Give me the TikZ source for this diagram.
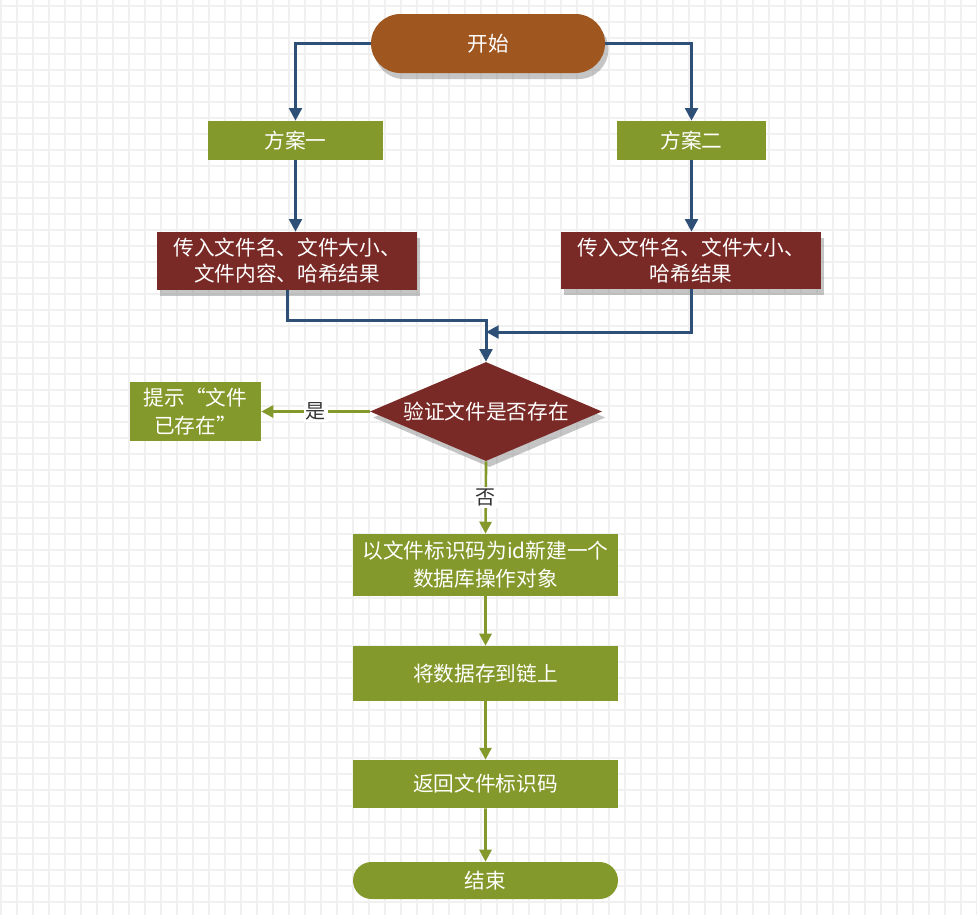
\documentclass[tikz,border=0pt]{standalone}
\usepackage{fontspec}
\setmainfont{Noto Sans CJK SC}
\usetikzlibrary{shapes.geometric,shapes.misc,arrows.meta,shadows}

\definecolor{startbrown}{HTML}{A0561F}
\definecolor{planolive}{HTML}{84992B}
\definecolor{inputred}{HTML}{7A2A26}
\definecolor{flowblue}{HTML}{2E5077}
\definecolor{gridgray}{HTML}{F0F0F0}

\tikzset{
  base/.style={text=white, inner sep=0pt, align=center,
    font=\fontsize{15.5pt}{21pt}\selectfont},
  shadowed/.style={drop shadow={shadow xshift=2.5pt, shadow yshift=-4.5pt, fill=black!45}},
  startnode/.style={base, rounded rectangle, fill=startbrown, shadowed},
  plan/.style={base, fill=planolive},
  inputbox/.style={base, fill=inputred, shadowed, minimum width=195pt,
    font=\fontsize{15.5pt}{19.5pt}\selectfont},
  decision/.style={base, diamond, aspect=2.34, fill=inputred, shadowed},
  blueflow/.style={draw=flowblue, line width=2.25pt, -{Triangle[length=9.5pt,width=9.5pt]}},
  greenflow/.style={draw=planolive, line width=2pt, -{Triangle[length=9pt,width=9pt]}},
  choice/.style={fill=white, text=black!80, inner sep=1.5pt, font=\fontsize{15pt}{18pt}\selectfont},
  gridline/.style={draw=gridgray, line width=1.5pt}
}

\begin{document}
\begin{tikzpicture}[x=0.75pt,y=-0.75pt]
  \useasboundingbox (0,0) rectangle (977,915);
  % background grid
  \fill[white] (0,0) rectangle (977,915);
  \foreach \gx in {1,17,...,977} \draw[gridline] (\gx,0) -- (\gx,915);
  \foreach \gy in {6,22,...,915} \draw[gridline] (0,\gy) -- (977,\gy);

  % start and the two plans
  \node[startnode, minimum width=175.5pt, minimum height=44.25pt] (start) at (488,43.5) {开始};
  \node[plan, minimum width=131.25pt, minimum height=29.25pt] (plan1) at (295.5,140.5) {方案一};
  \node[plan, minimum width=111.75pt, minimum height=29.25pt] (plan2) at (691.5,140.5) {方案二};

  % inputs
  \node[inputbox, minimum height=43.5pt] (input1) at (287,261) {传入文件名、文件大小、\\文件内容、哈希结果};
  \node[inputbox, minimum height=42.75pt] (input2) at (691,260.5) {传入文件名、文件大小、\\哈希结果};

  % check
  \node[decision, minimum width=174pt, minimum height=74.25pt] (verify) at (486,411.5) {验证文件是否存在};
  \node[plan, minimum width=98.25pt, minimum height=44.25pt] (notice) at (195.5,411.5) {提示“文件\\已存在”};

  % steps
  \node[plan, minimum width=198.75pt, minimum height=46.5pt] (create) at (485.5,565) {以文件标识码为id新建一个\\数据库操作对象};
  \node[plan, minimum width=198.75pt, minimum height=41.25pt] (store) at (485.5,673.5) {将数据存到链上};
  \node[plan, minimum width=198.75pt, minimum height=36pt] (back) at (485.5,784) {返回文件标识码};
  \node[plan, rounded rectangle, minimum width=198.75pt, minimum height=27.75pt] (finish) at (485.5,880.5) {结束};

  \coordinate (merge) at (486,332);

  % blue arrows
  \draw[blueflow] (start.west) -| (plan1.north);
  \draw[blueflow] (start.east) -| (plan2.north);
  \draw[blueflow] (plan1.south) -- (plan1.south |- input1.north);
  \draw[blueflow] (plan2.south) -- (plan2.south |- input2.north);
  \draw[blueflow] (input1.south) -- ++(0,30) -| (verify.north);
  \draw[blueflow] (input2.south) |- (merge);

  % green arrows
  \draw[greenflow] (verify.west) -- node[choice] {是} (notice.east);
  \draw[greenflow] (verify.south) -- node[choice] {否} (create.north);
  \draw[greenflow] (create) -- (store);
  \draw[greenflow] (store) -- (back);
  \draw[greenflow] (back) -- (finish);
\end{tikzpicture}
\end{document}
